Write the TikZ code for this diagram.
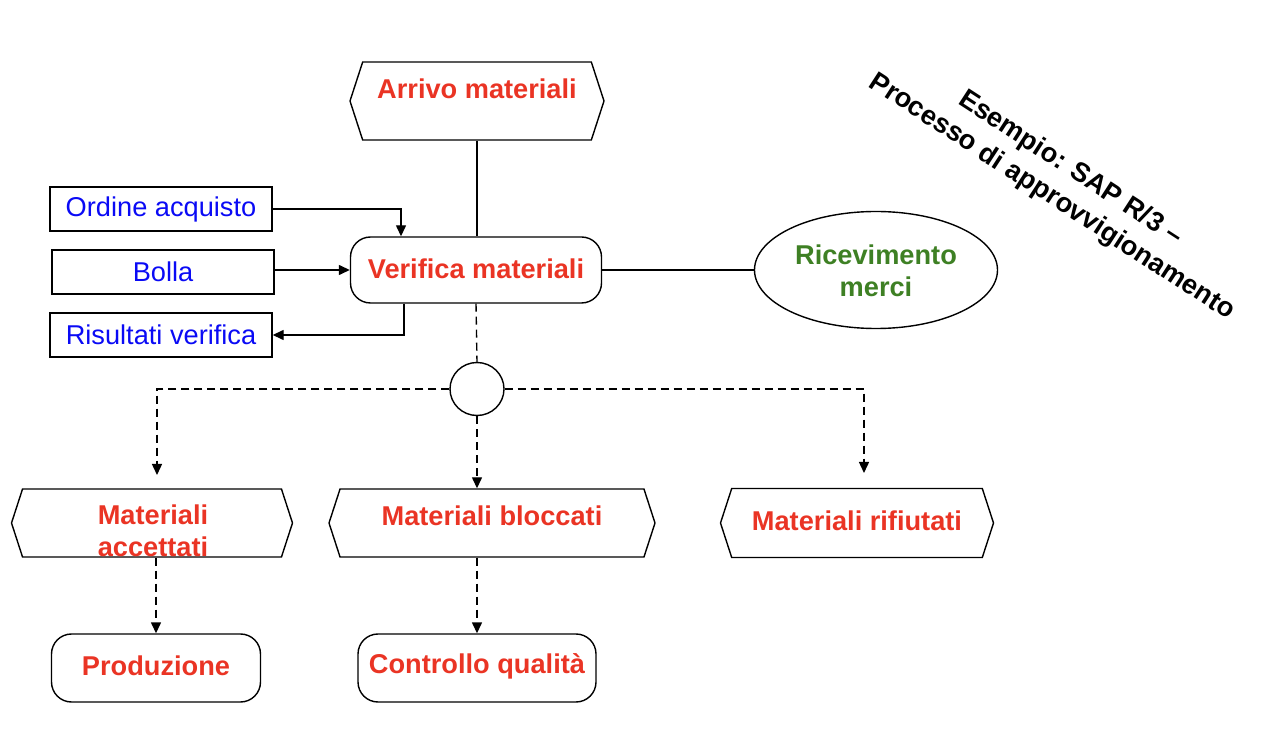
\documentclass[tikz,border=0pt]{standalone}
\usepackage{fontspec}
\setmainfont{Liberation Sans}
\usetikzlibrary{shapes.symbols,shapes.geometric,arrows.meta,calc}

\definecolor{rosso}{RGB}{234,52,36}
\definecolor{blu}{RGB}{10,10,245}
\definecolor{verde}{RGB}{62,128,36}

\begin{document}
\begin{tikzpicture}[
        x=0.5pt, y=-0.5pt,
        line width=0.7pt,
        every node/.style={font=\fontsize{13.6}{16}\selectfont},
        evento/.style={draw, signal, signal to=east and west, signal pointer angle=144, inner sep=0pt}, % Eventi
        funz/.style={draw, rounded corners=10pt, inner sep=0pt}, % Funzioni
        doc/.style={draw, rectangle, inner sep=0pt, minimum width=111pt, minimum height=22pt, text=blu}, % Documenti
        rtxt/.style={text=rosso, font=\fontsize{13.6}{16}\selectfont\bfseries, align=center},
        arr/.style={-{Triangle[length=5.5pt,width=5pt]}},
        darr/.style={dash pattern=on 4pt off 2.5pt, -{Triangle[length=5.5pt,width=5pt]}},
        dline/.style={dash pattern=on 4pt off 2.5pt},
    ]
    \useasboundingbox (0,0) rectangle (1264,732);

    % Evento iniziale
    \node[evento, minimum width=127pt, minimum height=39pt] (arrivo) at (477,101) {};
    \node[rtxt] (t-arrivo) at (477,89) {Arrivo materiali};

    % Funzione
    \node[funz, minimum width=125.5pt, minimum height=33pt] (ver) at (476,270) {};
    \node[rtxt] (t-ver) at (476,269) {Verifica materiali};

    % Documenti
    \node[doc] (ordine) at (161,209) {Ordine acquisto};
    \node[doc] (bolla) at (163,272) {Bolla};
    \node[doc] (ris) at (161,335) {Risultati verifica};

    % Unita organizzativa
    \node[draw, ellipse, minimum width=121.5pt, minimum height=58.5pt, inner sep=0pt] (ric) at (876,270) {};
    \node[rtxt, text=verde] (t-ric) at (876,271) {Ricevimento\\merci};

    % Connettore
    \node[draw, ellipse, minimum width=27pt, minimum height=26.5pt, inner sep=0pt] (giunz) at (477,389) {};

    % Eventi finali
    \node[evento, minimum width=140.5pt, minimum height=34pt] (acc) at (152,523) {};
    \node[rtxt] (t-acc) at (153,531) {Materiali\\accettati};
    \node[evento, minimum width=163pt, minimum height=34pt] (blocc) at (492,523) {};
    \node[rtxt] (t-blocc) at (492,516) {Materiali bloccati};
    \node[evento, minimum width=136.5pt, minimum height=34.5pt] (rif) at (857,523) {};
    \node[rtxt] (t-rif) at (857,521) {Materiali rifiutati};

    % Funzioni successive
    \node[funz, minimum width=104.5pt, minimum height=34pt] (prod) at (156,668) {};
    \node[rtxt] (t-prod) at (156,666) {Produzione};
    \node[funz, minimum width=119pt, minimum height=34pt] (contr) at (477,668) {};
    \node[rtxt] (t-contr) at (477,666) {Controllo qualità};

    % Titolo ruotato
    \node[rotate=-33, align=center, font=\fontsize{13.6}{17}\selectfont\bfseries] (titolo) at (1061,183)
        {Esempio: SAP R/3 --\\Processo di approvvigionamento};

    % Estremi liberi delle frecce
    \coordinate (acc-in) at (157,475);
    \coordinate (rif-in) at (864,473);

    % Collegamenti
    \draw (arrivo.south) -- (ver.north -| arrivo.south);
    \draw[arr] (ordine.east) -| ($(ver.north)+(-75,0)$);
    \draw[arr] (bolla.east |- ver.west) -- (ver.west);
    \draw[arr] ($(ver.south)+(-72,0)$) |- (ris.east);
    \draw (ver.east) -- (ric.west);
    \draw[dline] (ver.south) -- (giunz.north);
    \draw[darr] (giunz.west) -| (acc-in);
    \draw[darr] (giunz.south) -- (giunz.south |- blocc.north);
    \draw[darr] (giunz.east) -| (rif-in);
    \draw[darr] (acc.south -| prod.north) -- (prod.north);
    \draw[darr] (blocc.south -| contr.north) -- (contr.north);
\end{tikzpicture}
\end{document}
